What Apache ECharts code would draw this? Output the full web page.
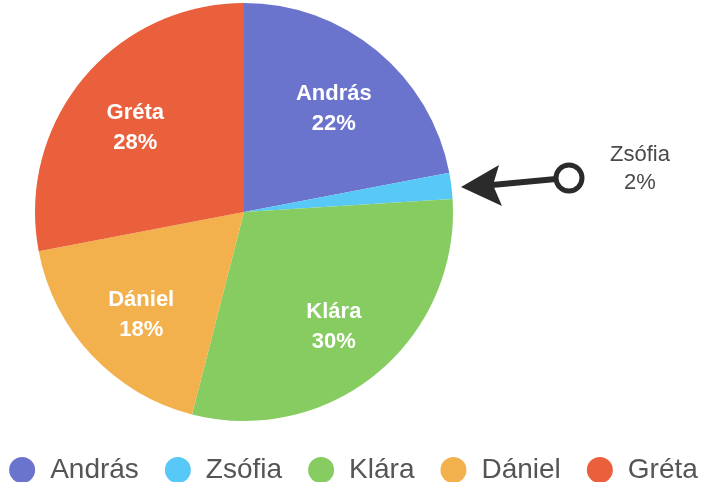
<!DOCTYPE html>
<html lang="en">
<head>
    <meta charset="UTF-8">
    <title>Pie</title>
    <style>
        html, body { margin: 0; padding: 0; background: #ffffff; }
    </style>
</head>
<body>
    <div id="main" style="width: 707px;height:482px;"></div>
    <script src="https://cdn.jsdelivr.net/npm/echarts@6/dist/echarts.min.js"></script>
    <script type="text/javascript">
        var names = ['András', 'Zsófia', 'Klára', 'Dániel', 'Gréta'];
        var shares = [22, 2, 30, 18, 28];
        var colors = ['#6b74cc', '#58c8f6', '#86cc60', '#f2b14c', '#ea603c'];
        var calloutName = 'Zsófia';

        var font = 'Helvetica, Arial, sans-serif';
        var myChart = echarts.init(document.getElementById('main'));

        var pieData = [];
        var labelData = [];
        for (var i = 0; i < names.length; i++) {
            pieData.push({ name: names[i], value: shares[i], itemStyle: { color: colors[i] } });
            labelData.push({
                name: names[i],
                value: shares[i],
                label: { show: names[i] !== calloutName }
            });
        }
        var ci = names.indexOf(calloutName);

        // arrow pointing at the small slice
        var ink = '#2b2b2b';
        var graphics = [
            { type: 'line', shape: { x1: 556, y1: 179, x2: 492, y2: 185 }, style: { stroke: ink, lineWidth: 6 } },
            { type: 'polygon', shape: { points: [[461, 187], [499, 165], [493, 185], [502, 206]] }, style: { fill: ink } },
            { type: 'circle', shape: { cx: 569, cy: 178, r: 13 }, style: { fill: '#fff', stroke: ink, lineWidth: 5 } },
            {
                type: 'text', x: 640, y: 155,
                style: {
                    text: names[ci], fill: '#4a4a4a', font: '22px ' + font,
                    align: 'center', verticalAlign: 'middle'
                }
            },
            {
                type: 'text', x: 640, y: 183,
                style: {
                    text: shares[ci] + '%', fill: '#4a4a4a', font: '22px ' + font,
                    align: 'center', verticalAlign: 'middle'
                }
            }
        ];

        var option = {
            backgroundColor: '#ffffff',
            animation: false,
            legend: {
                data: names,
                top: 451,
                left: 'center',
                padding: [5, 0],
                icon: 'circle',
                itemWidth: 46,
                itemHeight: 26,
                itemGap: 26,
                textStyle: { fontFamily: font, fontSize: 28, color: '#555' }
            },
            graphic: graphics,
            series: [{
                name: 'share',
                type: 'pie',
                center: [244, 212],
                radius: [0, 209],
                startAngle: 90,
                clockwise: true,
                label: { show: false },
                labelLine: { show: false },
                emphasis: { scale: false },
                data: pieData
            }, {
                name: 'labels',
                type: 'pie',
                center: [244, 218],
                radius: [0, 276],
                startAngle: 90,
                silent: true,
                itemStyle: { color: 'rgba(0,0,0,0)' },
                label: {
                    position: 'inside',
                    formatter: '{b}\n{c}%',
                    color: '#ffffff',
                    fontFamily: font,
                    fontSize: 22,
                    fontWeight: 'bold',
                    lineHeight: 30
                },
                labelLine: { show: false },
                emphasis: { disabled: true },
                data: labelData
            }]
        };
        myChart.setOption(option);
    </script>
</body>
</html>
